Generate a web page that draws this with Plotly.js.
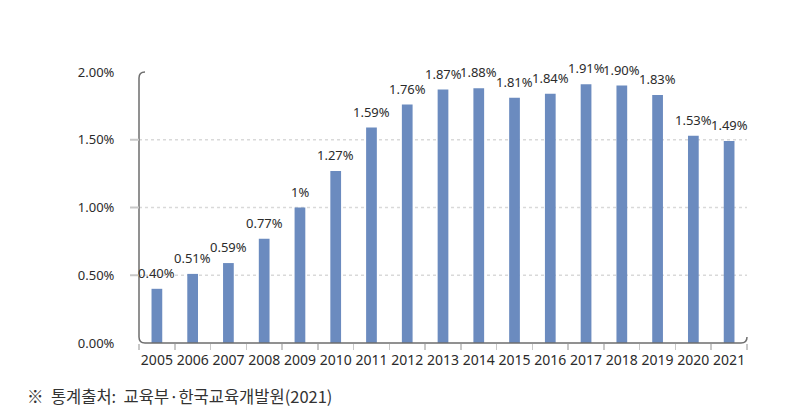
<!DOCTYPE html>
<html>
<head>
<meta charset="utf-8">
<script src="https://cdn.plot.ly/plotly-3.0.1.min.js"></script>
<style>html,body{margin:0;padding:0;background:#fff;}#chart{width:799px;height:420px;}</style>
</head>
<body>
<div id="chart"></div>
<script>
const years = ['2005','2006','2007','2008','2009','2010','2011','2012','2013','2014','2015','2016','2017','2018','2019','2020','2021'];
const rates = [0.40,0.51,0.59,0.77,1.00,1.27,1.59,1.76,1.87,1.88,1.81,1.84,1.91,1.90,1.83,1.53,1.49];
const rateLabels = ['0.40%','0.51%','0.59%','0.77%','1%','1.27%','1.59%','1.76%','1.87%','1.88%','1.81%','1.84%','1.91%','1.90%','1.83%','1.53%','1.49%'];
const yTickVals = [0,0.5,1,1.5,2];
const yTickText = ['0.00%','0.50%','1.00%','1.50%','2.00%'];
const gridVals = [0.5,1,1.5];
const sourceNote = '※  통계출처:  교육부·한국교육개발원(2021)';

const W = 799, H = 420;
const mL = 139, mR = 52, mT = 72, mB = 77;
const pw = W - mL - mR, ph = H - mT - mB;
const rx = 6 / pw, ry = 6 / ph;
const font = '"Noto Sans", "Noto Sans CJK KR", sans-serif';

const shapes = [];
// rounded axis frame (left + bottom)
shapes.push({
  type: 'path', xref: 'paper', yref: 'paper',
  path: `M ${rx} 1 Q 0 1 0 ${1 - ry} L 0 ${ry} Q 0 0 ${rx} 0 L ${1 - rx} 0 Q 1 0 1 ${ry}`,
  line: {color: '#6e6e6e', width: 1.5}
});
gridVals.forEach(v => {
  shapes.push({type: 'line', xref: 'paper', yref: 'y', x0: 0, x1: 1, y0: v, y1: v,
    line: {color: '#d9d9d9', width: 1.5, dash: 'dot'}, layer: 'below'});
  shapes.push({type: 'line', xref: 'paper', yref: 'y', x0: -9 / pw, x1: 0, y0: v, y1: v,
    line: {color: '#c8c8c8', width: 2}});
});

// category axes place annotations by category index
const annotations = years.map((y, i) => ({
  x: i, y: rates[i], xref: 'x', yref: 'y', text: rateLabels[i],
  showarrow: false, yanchor: 'bottom', yshift: 5,
  font: {family: font, size: 13, color: '#2b2b2b'}
}));
annotations.push({
  xref: 'paper', yref: 'paper', x: -114 / pw, y: -53 / ph,
  xanchor: 'left', yanchor: 'middle', showarrow: false, text: sourceNote,
  font: {family: '"Noto Sans CJK KR", sans-serif', size: 16.5, color: '#333'}
});

const trace = {
  type: 'bar', x: years, y: rates, width: 0.3,
  marker: {color: '#6b8bbf', line: {width: 0}},
  hoverinfo: 'skip'
};

const layout = {
  width: W, height: H,
  margin: {l: mL, r: mR, t: mT, b: mB, pad: 0},
  paper_bgcolor: '#fff', plot_bgcolor: '#fff',
  showlegend: false,
  xaxis: {
    type: 'category', range: [-0.5, years.length - 0.5],
    showline: false, showgrid: false, zeroline: false, tickangle: 0,
    ticks: 'outside', tickson: 'boundaries', ticklen: 6, tickwidth: 1.5, tickcolor: '#c8c8c8',
    ticklabelstandoff: 7,
    tickfont: {family: font, size: 14, color: '#2b2b2b'}
  },
  yaxis: {
    range: [0, 2], tickvals: yTickVals, ticktext: yTickText,
    showline: false, showgrid: false, zeroline: false,
    ticks: 'outside', ticklen: 21, tickcolor: 'rgba(0,0,0,0)',
    tickfont: {family: font, size: 13, color: '#2b2b2b'}
  },
  shapes: shapes,
  annotations: annotations
};

Plotly.newPlot('chart', [trace], layout, {displayModeBar: false, staticPlot: true});
</script>
</body>
</html>
